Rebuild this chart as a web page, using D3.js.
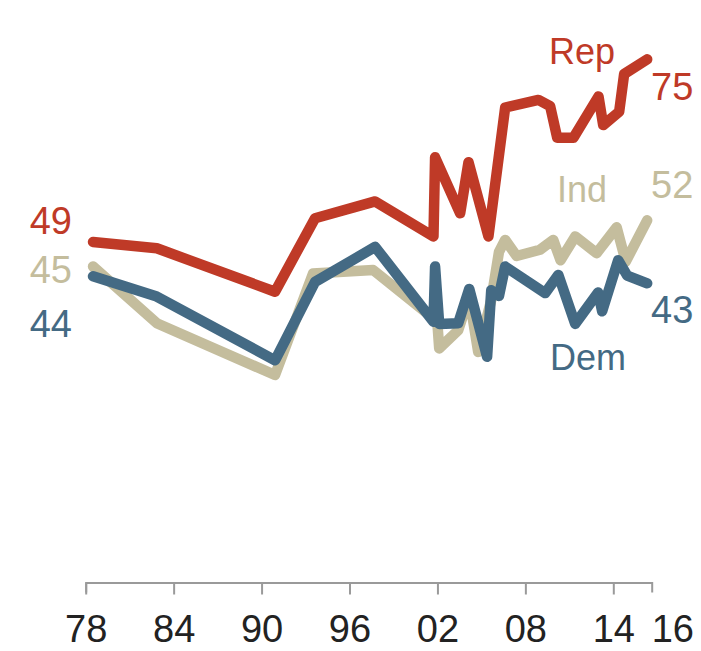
<!DOCTYPE html>
<html>
<head>
<meta charset="utf-8">
<script src="https://cdn.jsdelivr.net/npm/d3@7/dist/d3.min.js"></script>
<style>
  html, body { margin: 0; padding: 0; background: #fff; }
  svg { display: block; }
  text { font-family: "Liberation Sans", Arial, sans-serif; }
</style>
</head>
<body>
<svg id="chart" width="701" height="651"></svg>
<script>
// ---- data (decimal survey years, percent) ----
const repYears = [1978.5, 1982.85, 1990.92, 1993.65, 1997.75, 2001.73, 2001.84, 2003.55, 2004.12, 2005.48, 2006.62, 2008.89, 2009.69, 2010.17, 2011.28, 2012.99, 2013.31, 2014.40, 2014.74, 2016.31];
const repValues = [48.9, 48.0, 41.8, 52.3, 54.7, 49.7, 61.0, 53.0, 60.3, 49.7, 68.1, 69.2, 68.3, 63.8, 63.8, 69.7, 65.6, 67.5, 72.9, 75];

const demYears = [1978.5, 1982.85, 1990.92, 1993.65, 1997.75, 2001.73, 2001.84, 2002.12, 2003.42, 2004.17, 2005.39, 2005.67, 2006.2, 2006.62, 2009.35, 2010.25, 2011.4, 2012.97, 2013.24, 2014.33, 2014.95, 2016.31];
const demValues = [44.0, 41.1, 32.0, 43.2, 48.2, 37.5, 45.4, 37.2, 37.3, 42.2, 32.5, 42.0, 41.2, 45.4, 41.6, 44.2, 37.2, 41.7, 39.0, 46.3, 44.1, 43];

const indYears = [1978.5, 1982.85, 1990.92, 1993.51, 1997.61, 2001.73, 2001.84, 2002.12, 2003.42, 2004.17, 2004.78, 2005.67, 2006.2, 2006.62, 2007.4, 2009.0, 2009.9, 2010.4, 2011.4, 2012.86, 2014.23, 2014.85, 2016.31];
const indValues = [45.4, 37.3, 29.9, 44.4, 44.9, 38.0, 42.0, 33.7, 36.3, 41.1, 33.2, 40.6, 47.5, 49.2, 46.9, 47.8, 49.2, 46.3, 49.7, 47.3, 51.0, 46.1, 52];

const seriesNames = ["Ind", "Dem", "Rep"];
const startLabels = ["45", "44", "49"];
const endLabels = ["52", "43", "75"];

const tickYears = [1978, 1984, 1990, 1996, 2002, 2008, 2014];
const tickLabels = ["78", "84", "90", "96", "02", "08", "14"];
const lastTickLabel = "16";

// ---- styling ----
const colors = { Rep: "#bf3a27", Dem: "#446a84", Ind: "#c4bd9d" };

const svg = d3.select("#chart");

const x = d3.scaleLinear().domain([1978, 2016.62]).range([85.7, 651.7]);
const y = d3.scaleLinear().domain([0, 80]).range([584.3, 24.3]);

const series = [
  { name: seriesNames[0], years: indYears, values: indValues, start: startLabels[0], end: endLabels[0] },
  { name: seriesNames[1], years: demYears, values: demValues, start: startLabels[1], end: endLabels[1] },
  { name: seriesNames[2], years: repYears, values: repValues, start: startLabels[2], end: endLabels[2] }
];

const line = d3.line()
  .x(d => x(d[0]))
  .y(d => y(d[1]));

svg.append("g").selectAll("path")
  .data(series)
  .join("path")
  .attr("d", s => line(s.years.map((yr, i) => [yr, s.values[i]])))
  .attr("fill", "none")
  .attr("stroke", s => colors[s.name])
  .attr("stroke-width", 10.5)
  .attr("stroke-linejoin", "round")
  .attr("stroke-linecap", "round");

// ---- axis ----
const axis = d3.axisBottom(x)
  .tickValues(tickYears)
  .tickFormat((d, i) => tickLabels[i])
  .tickSize(12)
  .tickSizeOuter(10)
  .tickPadding(10);

const gx = svg.append("g")
  .attr("transform", "translate(0,582.5)")
  .call(axis);

gx.select(".domain").attr("stroke", "#9a9a9a").attr("stroke-width", 2);
gx.selectAll(".tick line").attr("stroke", "#9a9a9a").attr("stroke-width", 2);
gx.selectAll(".tick text")
  .attr("fill", "#222")
  .attr("font-size", 38)
  .attr("font-family", "'Liberation Sans', Arial, sans-serif")
  .attr("dy", null)
  .attr("y", 59);

gx.append("text")
  .attr("x", x.range()[1])
  .attr("y", 59)
  .attr("fill", "#222")
  .attr("font-size", 38)
  .attr("text-anchor", "start")
  .attr("font-family", "'Liberation Sans', Arial, sans-serif")
  .text(lastTickLabel);

// ---- labels ----
const startOffsets = { Rep: -8, Ind: 16, Dem: 61 };
const endOffsets = { Rep: 41, Ind: -22, Dem: 40 };
const namePos = { Rep: [549, 63.5], Ind: [557, 202], Dem: [550, 370] };

series.forEach(s => {
  const v0 = s.values[0];
  const v1 = s.values[s.values.length - 1];
  svg.append("text")
    .attr("x", 72)
    .attr("y", y(v0) + startOffsets[s.name])
    .attr("text-anchor", "end")
    .attr("font-size", 38)
    .attr("fill", colors[s.name])
    .text(s.start);
  svg.append("text")
    .attr("x", 651)
    .attr("y", y(v1) + endOffsets[s.name])
    .attr("text-anchor", "start")
    .attr("font-size", 38)
    .attr("fill", colors[s.name])
    .text(s.end);
  svg.append("text")
    .attr("x", namePos[s.name][0])
    .attr("y", namePos[s.name][1])
    .attr("text-anchor", "start")
    .attr("font-size", 36)
    .attr("fill", colors[s.name])
    .text(s.name);
});
</script>
</body>
</html>
